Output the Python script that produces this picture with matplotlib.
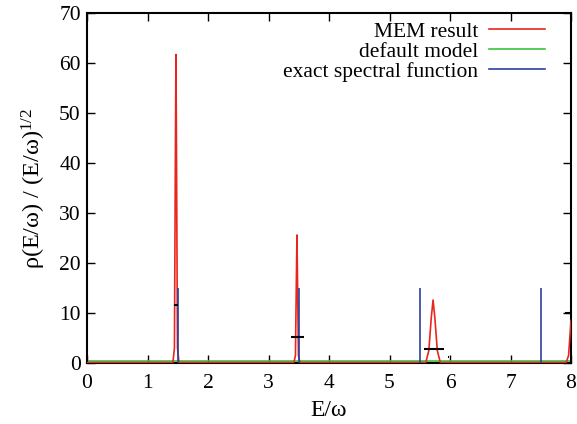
import matplotlib
matplotlib.use("Agg")
import matplotlib.pyplot as plt

plt.rcParams['font.family'] = ['Liberation Serif', 'DejaVu Serif']
plt.rcParams['mathtext.fontset'] = 'custom'
plt.rcParams['mathtext.rm'] = 'Liberation Serif'
plt.rcParams['mathtext.it'] = 'Liberation Serif:italic'

# MEM reconstruction: baseline plus sharp peaks (E/omega, rho)
mem_x = [0.0, 1.42, 1.445, 1.46, 1.47, 1.48, 1.495, 1.52,
         3.42, 3.445, 3.46, 3.47, 3.48, 3.495, 3.52,
         5.60, 5.65, 5.69, 5.72, 5.75, 5.79, 5.84,
         7.92, 7.96, 8.0]
mem_y = [0.1, 0.1, 3.0, 40.0, 61.7, 40.0, 3.0, 0.1,
         0.1, 1.5, 16.0, 25.6, 16.0, 1.5, 0.1,
         0.1, 2.5, 9.0, 12.6, 9.0, 2.5, 0.1,
         0.1, 1.5, 8.5]

# flat default model
model_x = [0.0, 8.0]
model_y = [0.4, 0.4]

# exact spectral function: delta peaks
exact_pos = [1.5, 3.5, 5.5, 7.5]
exact_height = [15.0, 15.0, 15.0, 15.0]

# horizontal error bars (x_lo, x_hi, level)
err_lo = [1.44, 3.38, 5.57, 5.97, 7.90]
err_hi = [1.50, 3.58, 5.90, 5.99, 8.00]
err_y = [11.6, 5.1, 2.8, 1.2, 10.0]

xticks = [0, 1, 2, 3, 4, 5, 6, 7, 8]
yticks = [0, 10, 20, 30, 40, 50, 60, 70]

fig = plt.figure(figsize=(5.77, 4.24), dpi=100)
ax = fig.add_axes([0.1508, 0.1439, 0.8388, 0.8254])

ax.plot(mem_x, mem_y, color='#e8261e', lw=1.2, label='MEM result', zorder=3)
ax.plot(model_x, model_y, color='#3cc43c', lw=1.2, label='default model', zorder=2)
ax.vlines(exact_pos, 0, exact_height, color='#2b3fa0', lw=1.2, zorder=4)
ax.plot([], [], color='#2b3fa0', lw=1.2, label='exact spectral function')
ax.hlines(err_y, err_lo, err_hi, color='black', lw=1.5, zorder=5)

ax.set_xlim(0, 8)
ax.set_ylim(0, 70)
ax.set_xticks(xticks)
ax.set_yticks(yticks)
ax.tick_params(direction='in', length=6, width=1.0, top=True, right=True,
               labelsize=15.5)
ax.tick_params(axis='x', pad=8)
ax.tick_params(axis='y', pad=4.5)
for s in ax.spines.values():
    s.set_linewidth(1.5)

ax.set_xlabel('E/ω', fontsize=17, labelpad=5)
ax.set_ylabel(r'ρ(E/ω) / (E/ω)$^{\mathregular{1/2}}$', fontsize=17.5, labelpad=8)

ax.legend(loc='upper right', frameon=False, markerfirst=False, fontsize=15.5,
          handlelength=2.6, handletextpad=0.5, labelspacing=0.0,
          borderaxespad=0.0, bbox_to_anchor=(0.964, 1.0))

fig.savefig('out.png', dpi=100)
